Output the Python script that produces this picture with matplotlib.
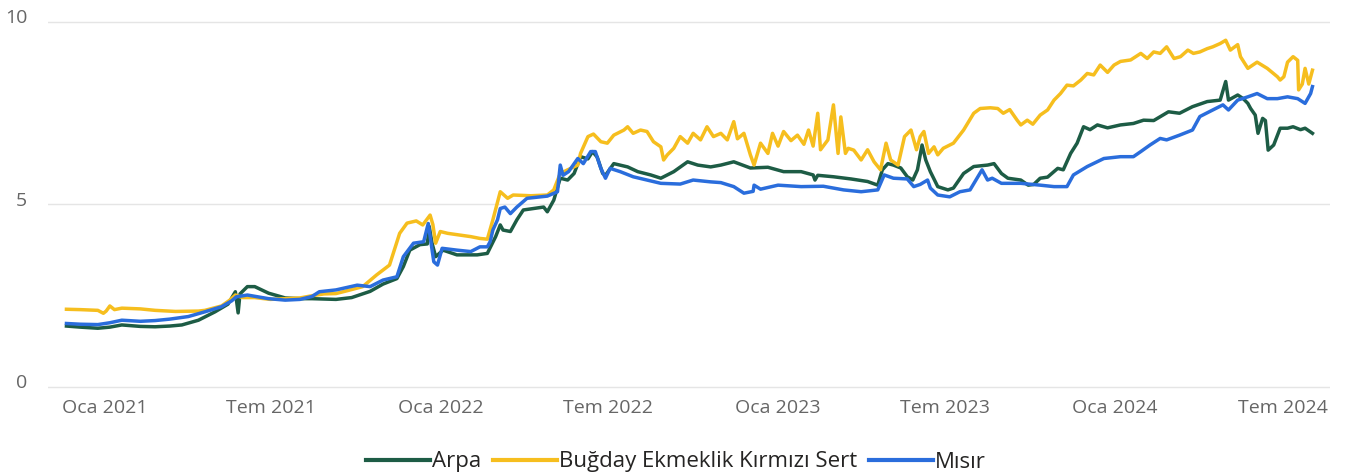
import pandas as pd
import matplotlib
matplotlib.use("Agg")
import matplotlib.pyplot as plt
import matplotlib.dates as mdates
from matplotlib.transforms import ScaledTranslation

plt.rcParams["font.family"] = ["Open Sans", "DejaVu Sans"]

# Arpa
arpa_dates = [
    "2020-11-21", "2020-12-06", "2020-12-25", "2021-01-07", "2021-01-20", "2021-02-09", "2021-02-25",
    "2021-03-13", "2021-03-26", "2021-04-13", "2021-05-01", "2021-05-15", "2021-05-23", "2021-05-26",
    "2021-05-28", "2021-06-05", "2021-06-13", "2021-06-28", "2021-07-16", "2021-08-01", "2021-08-14",
    "2021-09-09", "2021-09-26", "2021-10-16", "2021-10-30", "2021-11-14", "2021-11-21", "2021-11-28",
    "2021-12-09", "2021-12-17", "2021-12-19", "2021-12-22", "2021-12-26", "2022-01-03", "2022-01-18",
    "2022-02-09", "2022-02-20", "2022-03-01", "2022-03-06", "2022-03-09", "2022-03-17", "2022-03-24",
    "2022-03-31", "2022-04-11", "2022-04-22", "2022-04-26", "2022-05-03", "2022-05-10", "2022-05-18",
    "2022-05-25", "2022-06-01", "2022-06-09", "2022-06-14", "2022-06-19", "2022-06-25", "2022-06-28",
    "2022-07-07", "2022-07-22", "2022-08-02", "2022-08-16", "2022-08-27", "2022-09-10", "2022-09-25",
    "2022-10-06", "2022-10-20", "2022-10-31", "2022-11-14", "2022-12-02", "2022-12-21", "2023-01-07",
    "2023-01-26", "2023-02-08", "2023-02-10", "2023-02-13", "2023-03-02", "2023-03-21", "2023-04-08",
    "2023-04-19", "2023-04-24", "2023-04-30", "2023-05-06", "2023-05-14", "2023-05-21", "2023-05-27",
    "2023-06-01", "2023-06-06", "2023-06-10", "2023-06-15", "2023-06-23", "2023-07-04", "2023-07-10",
    "2023-07-21", "2023-08-01", "2023-08-16", "2023-08-23", "2023-08-31", "2023-09-07", "2023-09-21",
    "2023-09-29", "2023-10-05", "2023-10-12", "2023-10-20", "2023-10-31", "2023-11-06", "2023-11-14",
    "2023-11-21", "2023-11-28", "2023-12-05", "2023-12-13", "2023-12-24", "2024-01-07", "2024-01-21",
    "2024-02-01", "2024-02-12", "2024-02-28", "2024-03-11", "2024-03-25", "2024-04-10", "2024-04-24",
    "2024-04-30", "2024-05-03", "2024-05-13", "2024-05-19", "2024-05-24", "2024-05-27", "2024-06-01",
    "2024-06-04", "2024-06-09", "2024-06-12", "2024-06-15", "2024-06-21", "2024-06-28", "2024-07-06",
    "2024-07-12", "2024-07-20", "2024-07-25", "2024-08-02",
]
arpa_values = [
    1.67, 1.64, 1.61, 1.64, 1.70, 1.66, 1.65,
    1.67, 1.70, 1.83, 2.06, 2.27, 2.61, 2.03,
    2.55, 2.75, 2.75, 2.57, 2.44, 2.42, 2.42,
    2.40, 2.45, 2.62, 2.82, 2.97, 3.30, 3.75,
    3.90, 3.92, 4.40, 3.95, 3.57, 3.75, 3.62,
    3.62, 3.66, 4.12, 4.44, 4.30, 4.26, 4.58,
    4.85, 4.89, 4.93, 4.80, 5.12, 5.72, 5.67,
    5.85, 6.31, 6.25, 6.45, 6.30, 5.85, 5.80,
    6.12, 6.03, 5.90, 5.81, 5.72, 5.90, 6.17,
    6.08, 6.03, 6.08, 6.17, 6.00, 6.02, 5.90,
    5.90, 5.81, 5.67, 5.80, 5.76, 5.70, 5.63,
    5.53, 5.95, 6.12, 6.08, 6.00, 5.76, 5.67,
    5.95, 6.63, 6.22, 5.90, 5.49, 5.40, 5.45,
    5.85, 6.04, 6.08, 6.12, 5.85, 5.72, 5.67,
    5.53, 5.55, 5.72, 5.75, 5.99, 5.95, 6.40,
    6.68, 7.13, 7.05, 7.18, 7.10, 7.18, 7.22,
    7.31, 7.30, 7.54, 7.50, 7.68, 7.82, 7.86,
    8.37, 7.86, 8.00, 7.90, 7.77, 7.63, 7.45,
    6.95, 7.36, 7.30, 6.49, 6.63, 7.09, 7.09,
    7.13, 7.05, 7.09, 6.95,
]

# Buğday Ekmeklik Kırmızı Sert
bugday_dates = [
    "2020-11-21", "2020-12-06", "2020-12-25", "2020-12-31", "2021-01-03", "2021-01-07", "2021-01-12",
    "2021-01-20", "2021-02-09", "2021-02-25", "2021-03-19", "2021-04-13", "2021-04-20", "2021-05-08",
    "2021-05-17", "2021-05-23", "2021-05-31", "2021-06-13", "2021-06-30", "2021-07-16", "2021-08-01",
    "2021-08-14", "2021-08-27", "2021-09-09", "2021-09-23", "2021-10-08", "2021-10-23", "2021-11-06",
    "2021-11-17", "2021-11-25", "2021-12-05", "2021-12-12", "2021-12-20", "2021-12-23", "2021-12-26",
    "2021-12-31", "2022-01-08", "2022-02-02", "2022-02-12", "2022-02-20", "2022-02-26", "2022-03-06",
    "2022-03-14", "2022-03-20", "2022-04-08", "2022-04-26", "2022-05-03", "2022-05-10", "2022-05-18",
    "2022-05-29", "2022-06-01", "2022-06-09", "2022-06-15", "2022-06-23", "2022-06-30", "2022-07-07",
    "2022-07-18", "2022-07-22", "2022-07-28", "2022-08-05", "2022-08-12", "2022-08-19", "2022-08-27",
    "2022-08-30", "2022-09-03", "2022-09-10", "2022-09-17", "2022-09-25", "2022-10-01", "2022-10-09",
    "2022-10-16", "2022-10-23", "2022-10-31", "2022-11-07", "2022-11-14", "2022-11-18", "2022-11-25",
    "2022-12-02", "2022-12-06", "2022-12-13", "2022-12-21", "2022-12-26", "2023-01-01", "2023-01-07",
    "2023-01-15", "2023-01-22", "2023-01-29", "2023-02-03", "2023-02-08", "2023-02-13", "2023-02-16",
    "2023-02-24", "2023-03-02", "2023-03-07", "2023-03-10", "2023-03-15", "2023-03-18", "2023-03-24",
    "2023-04-01", "2023-04-08", "2023-04-15", "2023-04-22", "2023-04-28", "2023-05-03", "2023-05-11",
    "2023-05-18", "2023-05-25", "2023-05-31", "2023-06-04", "2023-06-08", "2023-06-13", "2023-06-19",
    "2023-06-23", "2023-06-29", "2023-07-10", "2023-07-21", "2023-08-01", "2023-08-08", "2023-08-19",
    "2023-08-27", "2023-09-02", "2023-09-09", "2023-09-17", "2023-09-21", "2023-09-28", "2023-10-04",
    "2023-10-12", "2023-10-20", "2023-10-27", "2023-11-03", "2023-11-10", "2023-11-17", "2023-11-25",
    "2023-12-02", "2023-12-09", "2023-12-16", "2023-12-24", "2023-12-31", "2024-01-07", "2024-01-18",
    "2024-01-29", "2024-02-05", "2024-02-12", "2024-02-19", "2024-02-26", "2024-03-05", "2024-03-12",
    "2024-03-20", "2024-03-26", "2024-04-02", "2024-04-10", "2024-04-16", "2024-04-24", "2024-04-30",
    "2024-05-05", "2024-05-13", "2024-05-16", "2024-05-24", "2024-06-03", "2024-06-14", "2024-06-25",
    "2024-06-28", "2024-07-02", "2024-07-06", "2024-07-12", "2024-07-17", "2024-07-18", "2024-07-22",
    "2024-07-25", "2024-07-29", "2024-08-02",
]
bugday_values = [
    2.13, 2.12, 2.10, 2.02, 2.08, 2.22, 2.12,
    2.16, 2.14, 2.10, 2.07, 2.08, 2.10, 2.22,
    2.38, 2.52, 2.45, 2.45, 2.40, 2.42, 2.44,
    2.50, 2.55, 2.56, 2.65, 2.75, 3.07, 3.34,
    4.21, 4.49, 4.55, 4.44, 4.71, 4.45, 3.94,
    4.26, 4.21, 4.12, 4.07, 4.05, 4.58, 5.35,
    5.17, 5.26, 5.24, 5.26, 5.40, 5.85, 5.95,
    6.08, 6.40, 6.86, 6.93, 6.72, 6.68, 6.90,
    7.04, 7.13, 6.95, 7.04, 7.00, 6.72, 6.58,
    6.22, 6.36, 6.54, 6.86, 6.68, 6.95, 6.77,
    7.13, 6.86, 6.95, 6.77, 7.27, 6.80, 6.95,
    6.36, 6.08, 6.68, 6.40, 6.95, 6.60, 7.00,
    6.75, 6.90, 6.65, 7.04, 6.60, 7.50, 6.50,
    6.77, 7.73, 6.40, 7.40, 6.40, 6.54, 6.49,
    6.22, 6.50, 6.17, 5.95, 6.68, 6.22, 6.08,
    6.86, 7.04, 6.50, 6.86, 7.00, 6.40, 6.58,
    6.36, 6.54, 6.68, 7.04, 7.50, 7.63, 7.65,
    7.63, 7.50, 7.60, 7.31, 7.18, 7.31, 7.20,
    7.45, 7.59, 7.86, 8.04, 8.27, 8.25, 8.41,
    8.59, 8.55, 8.82, 8.62, 8.82, 8.92, 8.96,
    9.14, 9.00, 9.18, 9.14, 9.32, 9.00, 9.05,
    9.23, 9.14, 9.18, 9.27, 9.32, 9.41, 9.50,
    9.23, 9.38, 9.05, 8.73, 8.90, 8.73, 8.50,
    8.41, 8.50, 8.90, 9.05, 8.95, 8.14, 8.30,
    8.73, 8.30, 8.68,
]

# Mısır
misir_dates = [
    "2020-11-21", "2020-12-06", "2020-12-25", "2021-01-07", "2021-01-20", "2021-02-09", "2021-02-25",
    "2021-03-13", "2021-04-02", "2021-04-20", "2021-05-08", "2021-05-19", "2021-05-24", "2021-06-05",
    "2021-06-28", "2021-07-16", "2021-08-01", "2021-08-14", "2021-08-22", "2021-09-09", "2021-10-02",
    "2021-10-16", "2021-10-30", "2021-11-14", "2021-11-21", "2021-12-02", "2021-12-13", "2021-12-18",
    "2021-12-24", "2021-12-28", "2022-01-02", "2022-01-18", "2022-02-02", "2022-02-12", "2022-02-20",
    "2022-02-23", "2022-02-26", "2022-03-03", "2022-03-06", "2022-03-11", "2022-03-17", "2022-03-24",
    "2022-04-04", "2022-04-26", "2022-05-07", "2022-05-10", "2022-05-13", "2022-05-19", "2022-05-29",
    "2022-06-04", "2022-06-12", "2022-06-17", "2022-06-23", "2022-06-28", "2022-07-03", "2022-07-14",
    "2022-07-28", "2022-08-12", "2022-08-27", "2022-09-17", "2022-10-01", "2022-10-20", "2022-10-31",
    "2022-11-14", "2022-11-25", "2022-12-05", "2022-12-06", "2022-12-13", "2023-01-01", "2023-01-26",
    "2023-02-19", "2023-03-13", "2023-04-01", "2023-04-19", "2023-04-26", "2023-05-06", "2023-05-21",
    "2023-05-28", "2023-06-04", "2023-06-12", "2023-06-15", "2023-06-23", "2023-07-06", "2023-07-17",
    "2023-07-28", "2023-08-10", "2023-08-16", "2023-08-21", "2023-08-31", "2023-09-21", "2023-10-12",
    "2023-10-27", "2023-11-10", "2023-11-17", "2023-12-02", "2023-12-20", "2024-01-07", "2024-01-21",
    "2024-01-29", "2024-02-08", "2024-02-19", "2024-02-26", "2024-03-11", "2024-03-25", "2024-04-02",
    "2024-04-16", "2024-04-27", "2024-05-03", "2024-05-13", "2024-05-24", "2024-06-03", "2024-06-14",
    "2024-06-25", "2024-07-06", "2024-07-17", "2024-07-25", "2024-07-31", "2024-08-02",
]
misir_values = [
    1.74, 1.72, 1.71, 1.76, 1.83, 1.80, 1.82,
    1.86, 1.93, 2.06, 2.20, 2.36, 2.47, 2.52,
    2.42, 2.38, 2.40, 2.48, 2.61, 2.66, 2.79,
    2.75, 2.93, 3.02, 3.57, 3.94, 3.98, 4.48,
    3.43, 3.34, 3.80, 3.75, 3.71, 3.84, 3.84,
    3.98, 4.30, 4.58, 4.89, 4.93, 4.75, 4.93,
    5.17, 5.23, 5.35, 6.08, 5.80, 5.90, 6.26,
    6.12, 6.45, 6.45, 5.99, 5.72, 5.99, 5.90,
    5.76, 5.67, 5.58, 5.56, 5.67, 5.62, 5.60,
    5.49, 5.31, 5.36, 5.53, 5.42, 5.53, 5.49,
    5.50, 5.40, 5.35, 5.40, 5.81, 5.72, 5.70,
    5.49, 5.55, 5.67, 5.45, 5.26, 5.21, 5.35,
    5.40, 5.95, 5.67, 5.72, 5.58, 5.58, 5.53,
    5.49, 5.49, 5.81, 6.04, 6.26, 6.31, 6.31,
    6.45, 6.63, 6.81, 6.77, 6.90, 7.04, 7.41,
    7.59, 7.73, 7.59, 7.86, 7.95, 8.04, 7.90,
    7.90, 7.95, 7.90, 7.77, 8.04, 8.23,
]

series = [
    ("Arpa", arpa_dates, arpa_values, "#1d5c45"),
    ("Buğday Ekmeklik Kırmızı Sert", bugday_dates, bugday_values, "#f6be1e"),
    ("Mısır", misir_dates, misir_values, "#2a6ddc"),
]

tick_dates = ["2021-01-01", "2021-07-01", "2022-01-01", "2022-07-01",
              "2023-01-01", "2023-07-01", "2024-01-01", "2024-07-01"]
tick_labels = ["Oca 2021", "Tem 2021", "Oca 2022", "Tem 2022",
               "Oca 2023", "Tem 2023", "Oca 2024", "Tem 2024"]

W, H = 1352, 476
fig = plt.figure(figsize=(W / 100, H / 100), dpi=100)
# y range padded a little so the 0 and 10 grid lines are not clipped
ax = fig.add_axes([48 / W, (H - 390.65) / H, 1282 / W, 372.3 / H])

for name, d, v, c in series:
    ax.plot(pd.to_datetime(d), v, color=c, lw=2.5, label=name, solid_joinstyle="round")

ax.set_ylim(-0.1, 10.1)
ax.set_yticks([0, 5, 10])
ax.set_xlim(pd.Timestamp("2020-11-01"), pd.Timestamp("2024-08-21"))
ax.set_xticks(mdates.date2num(pd.to_datetime(tick_dates)))
ax.set_xticklabels(tick_labels)

ax.grid(True, axis="y", color="#e5e5e5", lw=1.0)
ax.set_axisbelow(True)
for s in ax.spines.values():
    s.set_visible(False)
ax.tick_params(axis="both", length=0, labelsize=14, labelcolor="#666666")
ax.tick_params(axis="y", pad=15)
ax.tick_params(axis="x", pad=6)

# nudge y labels up a little
offset = ScaledTranslation(0, 4 / 72, fig.dpi_scale_trans)
for lab in ax.get_yticklabels():
    lab.set_transform(lab.get_transform() + offset)

leg = ax.legend(loc="center", bbox_to_anchor=(676 / W, 1 - 462 / H), bbox_transform=fig.transFigure,
                ncol=3, frameon=False, fontsize=16, handlelength=2.85, handletextpad=0.1,
                columnspacing=0.55)
for t in leg.get_texts():
    t.set_color("#252423")
for h in leg.get_lines():
    h.set_linewidth(3)

fig.savefig("out.png", dpi=100)
